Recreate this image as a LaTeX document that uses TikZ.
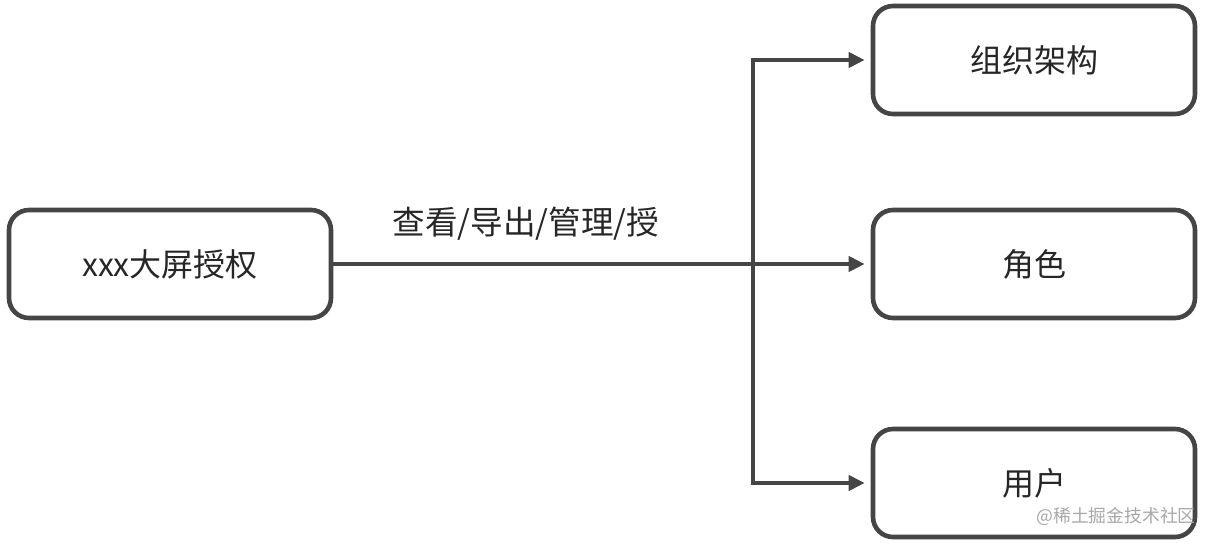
\documentclass[tikz,border=0pt]{standalone}
\usepackage{fontspec}
\setmainfont{Noto Sans CJK SC}
\usetikzlibrary{arrows.meta}
\definecolor{ink}{HTML}{454545}
\definecolor{wm}{HTML}{A8A8A8}
\begin{document}
\begin{tikzpicture}[x=0.5pt,y=-0.5pt,
  boxnode/.style={draw=ink,line width=2.3pt,rounded corners=10pt,fill=white,
    minimum width=161pt,minimum height=54pt,inner sep=0pt,
    font=\fontsize{16}{19}\selectfont,text=black!85},
  conn/.style={draw=ink,line width=2.3pt},
  arr/.style={conn,-{Triangle[length=8pt,width=7.5pt]},shorten >=3pt}]
\useasboundingbox (0,0) rectangle (1212,543);
\node[boxnode] (L) at (170,264) {xxx大屏授权};
\node[boxnode] (T) at (1034,60) {组织架构};
\node[boxnode] (M) at (1034,264) {角色};
\node[boxnode] (B) at (1034,483) {用户};
\coordinate (j) at (753,264);
\draw[arr] (L.east) -- (M.west);
\draw[arr] (j) |- (T.west);
\draw[arr] (j) |- (B.west);
\node[font=\fontsize{16.3}{19}\selectfont,text=black!85] (lab) at (526,224) {查看/导出/管理/授};
\node[font=\fontsize{8.9}{11}\selectfont,text=wm,anchor=east,inner sep=0pt] (wmk) at (1196,516) {@稀土掘金技术社区};
\end{tikzpicture}
\end{document}
